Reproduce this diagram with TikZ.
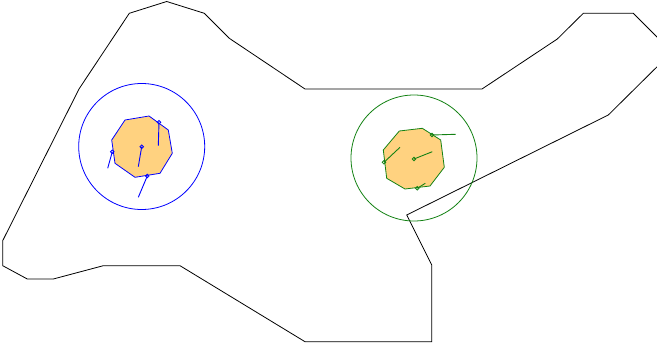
\documentclass[tikz,border=0pt]{standalone}
\usepackage{xcolor}
\usepackage{tikz}

\definecolor{blobfill}{RGB}{255,210,128}
\definecolor{leafgreen}{RGB}{20,130,20}

\tikzset{
  region/.style={draw=black, line width=0.8pt, line join=miter},
  ring/.style={line width=0.8pt},
  cell/.style={fill=blobfill, line width=0.8pt},
  spike/.style={line width=0.9pt},
  knob/.style={line width=0.8pt, fill=none}
}

\begin{document}
\begin{tikzpicture}[x=1pt, y=-1pt]
  \useasboundingbox (0,0) rectangle (657,350);
  \clip (0,0) rectangle (657,350);

  % outer region
  \draw[region] (129.3,13.3) -- (166.7,1.5) -- (204.3,13.3) -- (229.3,38.3)
    -- (305,89) -- (482,89) -- (557.3,39) -- (583.3,13.3) -- (633.3,13.3)
    -- (672,52) -- (608.3,115) -- (406.7,215) -- (431.7,265) -- (431.7,341.7)
    -- (305,341.7) -- (180,265.7) -- (103.3,265.7) -- (53.3,279) -- (27.3,279)
    -- (2.7,265.7) -- (2.7,240.7) -- (79,89) -- cycle;

  % left cell (blue)
  \coordinate (bc) at (141.7,146.5);
  \draw[ring, blue] (bc) circle (63);
  \draw[cell, draw=blue] (125,120) -- (149,116) -- (168.3,130) -- (172.3,153.3)
    -- (160,173.3) -- (135,177.3) -- (115,163.3) -- (111.7,140) -- cycle;
  \coordinate (b1) at (141.7,146.7);
  \coordinate (b2) at (159,122.3);
  \coordinate (b3) at (112.3,151.7);
  \coordinate (b4) at (147.3,176);
  \draw[spike, blue] (b1) -- (138.3,166.7);
  \draw[spike, blue] (b2) -- (158.3,145.7);
  \draw[spike, blue] (b3) -- (107.7,168.3);
  \draw[spike, blue] (b4) -- (138.3,197.3);
  \foreach \k in {b1,b2,b3,b4}
    \draw[knob, blue] (\k) circle (1.8);

  % right cell (green)
  \coordinate (gc) at (414,158);
  \draw[ring, leafgreen] (gc) circle (63);
  \draw[cell, draw=leafgreen] (399.3,131) -- (422.3,128.3) -- (440.7,140) -- (444.3,167.3)
    -- (430,186) -- (405,189) -- (386.7,178.3) -- (383.3,150) -- cycle;
  \coordinate (g1) at (414,159);
  \coordinate (g2) at (432,135);
  \coordinate (g3) at (384,162.3);
  \coordinate (g4) at (417.3,188.3);
  \draw[spike, leafgreen] (g1) -- (432.3,151.7);
  \draw[spike, leafgreen] (g2) -- (455.7,134.3);
  \draw[spike, leafgreen] (g3) -- (400,147.3);
  \draw[spike, leafgreen] (g4) -- (425.3,183.3);
  \foreach \k in {g1,g2,g3,g4}
    \draw[knob, leafgreen] (\k) circle (1.8);
\end{tikzpicture}
\end{document}
